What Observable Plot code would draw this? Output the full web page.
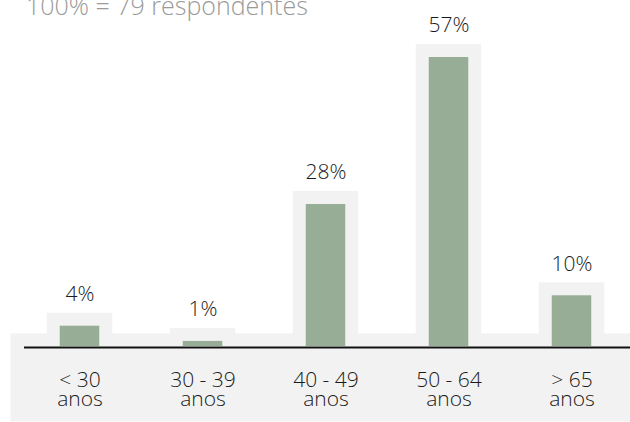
<!DOCTYPE html>
<html>
<head>
<meta charset="utf-8">
<script src="https://cdn.jsdelivr.net/npm/d3@7"></script>
<script src="https://cdn.jsdelivr.net/npm/@observablehq/plot@0.6"></script>
<style>
  html, body { margin: 0; padding: 0; background: #fff; overflow: hidden; }
  #wrap { position: relative; width: 630px; height: 422px; }
  #title { position: absolute; left: 26px; top: -7px; font-family: "Open Sans", sans-serif; font-weight: 300; font-size: 25px; color: #9a9a9a; white-space: nowrap; line-height: 1; }
  #chart { position: absolute; left: 0; top: 0; }
</style>
</head>
<body>
<div id="wrap">
  <div id="chart"></div>
  <div id="title">100% = 79 respondentes</div>
</div>
<script>
const ageGroups = ["< 30", "30 - 39", "40 - 49", "50 - 64", "> 65"];
const ageUnit = "anos";
const shares = [4, 1, 28, 57, 10];
const shareLabels = ["4%", "1%", "28%", "57%", "10%"];

const data = ageGroups.map((g, i) => ({group: g, value: shares[i], label: shareLabels[i], tick: g + "\n" + ageUnit}));

const FONT = "Open Sans";
const chart = Plot.plot({
  width: 630,
  height: 422,
  margin: 0,
  style: {fontFamily: FONT, fontWeight: 300, background: "transparent", overflow: "visible"},
  x: {domain: ageGroups, range: [16.25, 633.75], padding: 0, axis: null},
  y: {domain: [0, 57], range: [346, 57], axis: null},
  marks: [
    Plot.frame({fill: "#f2f2f2", stroke: null, insetLeft: 10, insetTop: 333, insetBottom: 1}),
    Plot.barY(data, {x: "group", y: "value", fill: "#f2f2f2", insetLeft: 28.75, insetRight: 28.75, insetTop: -13}),
    Plot.barY(data, {x: "group", y: "value", fill: "#97ad96", insetLeft: 41.75, insetRight: 41.75}),
    Plot.ruleY([0], {stroke: "#111", strokeWidth: 2, dy: 1, insetLeft: 24}),
    Plot.text(data, {x: "group", y: "value", text: "label", dy: -32, fontSize: 21, fill: "#1a1a1a", fontWeight: 300}),
    Plot.text(data, {x: "group", y: 0, text: "tick", dy: 43.5, fontSize: 21, lineHeight: 0.9, fill: "#1a1a1a", fontWeight: 300})
  ]
});
document.getElementById("chart").appendChild(chart);
</script>
</body>
</html>
